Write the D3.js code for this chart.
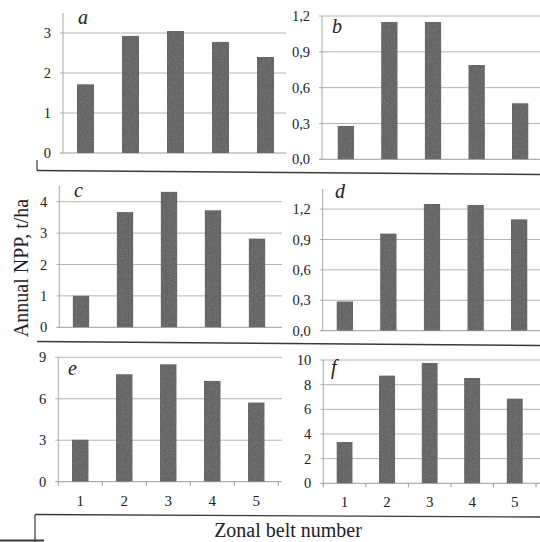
<!DOCTYPE html>
<html>
<head>
<meta charset="utf-8">
<script src="https://cdn.jsdelivr.net/npm/d3@7"></script>
<style>
  html, body { margin: 0; padding: 0; background: #fff; }
  svg { display: block; }
  svg text { font-family: "Liberation Serif"; }
</style>
</head>
<body>
<svg id="chart" width="540" height="542"></svg>
<script>
// Zonal belt numbers (categories shared by all six panels)
const belts = ["1", "2", "3", "4", "5"];

// Annual NPP, t/ha, per zonal belt
const nppA = [1.72, 2.93, 3.05, 2.78, 2.40];
const nppB = [0.28, 1.15, 1.15, 0.79, 0.47];
const nppC = [1.01, 3.67, 4.32, 3.73, 2.83];
const nppD = [0.29, 0.96, 1.25, 1.24, 1.10];
const nppE = [3.05, 7.78, 8.50, 7.30, 5.74];
const nppF = [3.35, 8.75, 9.77, 8.55, 6.88];

// Y tick values per panel
const ticksA = [0, 1, 2, 3];
const ticksB = [0, 0.3, 0.6, 0.9, 1.2];
const ticksC = [0, 1, 2, 3, 4];
const ticksD = [0, 0.3, 0.6, 0.9, 1.2];
const ticksE = [0, 3, 6, 9];
const ticksF = [0, 2, 4, 6, 8, 10];

// Y domain maxima
const maxA = 3.5, maxB = 1.2, maxC = 4.5, maxD = 1.4, maxE = 9, maxF = 10;

const svg = d3.select("#chart");

// grainy fill for the bars
const defs = svg.append("defs");
const grain = defs.append("filter").attr("id", "grain")
  .attr("x", 0).attr("y", 0).attr("width", "100%").attr("height", "100%")
  .attr("color-interpolation-filters", "sRGB");
grain.append("feTurbulence").attr("type", "fractalNoise")
  .attr("baseFrequency", 0.85).attr("numOctaves", 2).attr("seed", 7).attr("result", "noise");
grain.append("feColorMatrix").attr("in", "noise").attr("type", "saturate")
  .attr("values", 0).attr("result", "gray");
grain.append("feComposite").attr("in", "gray").attr("in2", "SourceGraphic")
  .attr("operator", "arithmetic").attr("k1", 0).attr("k2", 0.3).attr("k3", 1).attr("k4", -0.15)
  .attr("result", "mix");
grain.append("feComposite").attr("in", "mix").attr("in2", "SourceGraphic").attr("operator", "in");

// decimal comma formatter
const fmtComma = d => d3.format(".1f")(d).replace(".", ",");
const fmtInt = d => d3.format("d")(d);

const panels = [
  { letter: "a", values: nppA, ticks: ticksA, max: maxA, fmt: fmtInt,
    x0: 63, x1: 288, axisX: 63, yBase: 153, yTop: 13, gridEnd: 286,
    lx: 78, ly: 24, xLabels: false },
  { letter: "b", values: nppB, ticks: ticksB, max: maxB, fmt: fmtComma,
    x0: 324, x1: 542, axisX: 322, yBase: 159.3, yTop: 16, gridEnd: 540,
    lx: 332, ly: 33, xLabels: false },
  { letter: "c", values: nppC, ticks: ticksC, max: maxC, fmt: fmtInt,
    x0: 59, x1: 279, axisX: 59.3, yBase: 327.3, yTop: 186, gridEnd: 282,
    lx: 74, ly: 197, xLabels: false },
  { letter: "d", values: nppD, ticks: ticksD, max: maxD, fmt: fmtComma,
    x0: 323, x1: 541, axisX: 322.7, yBase: 330.7, yTop: 188.8, gridEnd: 540,
    lx: 335, ly: 198, xLabels: false },
  { letter: "e", values: nppE, ticks: ticksE, max: maxE, fmt: fmtInt,
    x0: 58.3, x1: 278.3, axisX: 58.3, yBase: 481.7, yTop: 357.3, gridEnd: 282,
    lx: 68, ly: 375, xLabels: true },
  { letter: "f", values: nppF, ticks: ticksF, max: maxF, fmt: fmtInt,
    x0: 323.3, x1: 536, axisX: 323.3, yBase: 483.3, yTop: 360, gridEnd: 540,
    lx: 331, ly: 374, xLabels: true }
];

panels.forEach(p => {
  const g = svg.append("g").attr("class", "panel-" + p.letter);

  const x = d3.scaleBand().domain(belts).range([p.x0, p.x1])
    .paddingInner(0.62).paddingOuter(0.31);
  const y = d3.scaleLinear().domain([0, p.max]).range([p.yBase, p.yTop]);

  // horizontal gridlines (incl. the zero line)
  g.append("g").selectAll("line").data(p.ticks).join("line")
    .attr("x1", p.axisX - 3).attr("x2", p.gridEnd)
    .attr("y1", d => y(d)).attr("y2", d => y(d))
    .attr("stroke", d => d === 0 ? "#9a9a9a" : "#b4b4b4")
    .attr("stroke-width", 1);

  // vertical value axis
  g.append("line")
    .attr("x1", p.axisX).attr("x2", p.axisX)
    .attr("y1", y(0)).attr("y2", y(p.max))
    .attr("stroke", "#a8a8a8").attr("stroke-width", 1);

  // value tick labels
  g.append("g").selectAll("text").data(p.ticks).join("text")
    .attr("x", p.axisX - 12).attr("y", d => y(d))
    .attr("dy", "0.35em").attr("text-anchor", "end")
    .attr("font-size", 14.5).attr("fill", "#222")
    .text(p.fmt);

  // bars
  g.append("g").selectAll("rect").data(p.values).join("rect")
    .attr("x", (d, i) => x(belts[i]))
    .attr("width", x.bandwidth())
    .attr("y", d => y(d))
    .attr("height", d => y(0) - y(d))
    .attr("fill", "#787878")
    .attr("filter", "url(#grain)");

  // category ticks and labels along the bottom row
  if (p.xLabels) {
    const bounds = [p.x0].concat(belts.map(b => x(b) + x.bandwidth() / 2 + x.step() / 2));
    g.append("g").selectAll("line").data(bounds).join("line")
      .attr("x1", d => d).attr("x2", d => d)
      .attr("y1", y(0)).attr("y2", y(0) + 4)
      .attr("stroke", "#9a9a9a");
    g.append("g").selectAll("text").data(belts).join("text")
      .attr("x", d => x(d) + x.bandwidth() / 2)
      .attr("y", y(0) + 24)
      .attr("text-anchor", "middle")
      .attr("font-size", 15).attr("fill", "#222")
      .text(d => d);
  }

  // panel letter
  g.append("text")
    .attr("x", p.lx).attr("y", p.ly)
    .attr("font-size", 20).attr("font-style", "italic").attr("fill", "#222")
    .text(p.letter);
});

// frame lines between the rows
const frame = svg.append("g").attr("stroke", "#3a3a3a").attr("fill", "none");
frame.append("line").attr("x1", 37).attr("y1", 170.5).attr("x2", 540).attr("y2", 174.5).attr("stroke-width", 1.6);
frame.append("line").attr("x1", 37).attr("y1", 160).attr("x2", 37).attr("y2", 170.5).attr("stroke-width", 1.2);
frame.append("line").attr("x1", 37).attr("y1", 341.5).attr("x2", 540).attr("y2", 345.5).attr("stroke-width", 1.6);
frame.append("line").attr("x1", 35).attr("y1", 514.5).attr("x2", 540).attr("y2", 517).attr("stroke-width", 1.4);
frame.append("line").attr("x1", 35).attr("y1", 514.5).attr("x2", 35).attr("y2", 542).attr("stroke-width", 1.2);
frame.append("line").attr("x1", 0).attr("y1", 540.5).attr("x2", 44).attr("y2", 540.5).attr("stroke-width", 2);

// axis titles
svg.append("text")
  .attr("transform", "translate(28,268) rotate(-90)")
  .attr("text-anchor", "middle")
  .attr("font-size", 20).attr("fill", "#222")
  .text("Annual NPP, t/ha");

svg.append("text")
  .attr("x", 288).attr("y", 536.5)
  .attr("text-anchor", "middle")
  .attr("font-size", 20).attr("fill", "#222")
  .text("Zonal belt number");
</script>
</body>
</html>
